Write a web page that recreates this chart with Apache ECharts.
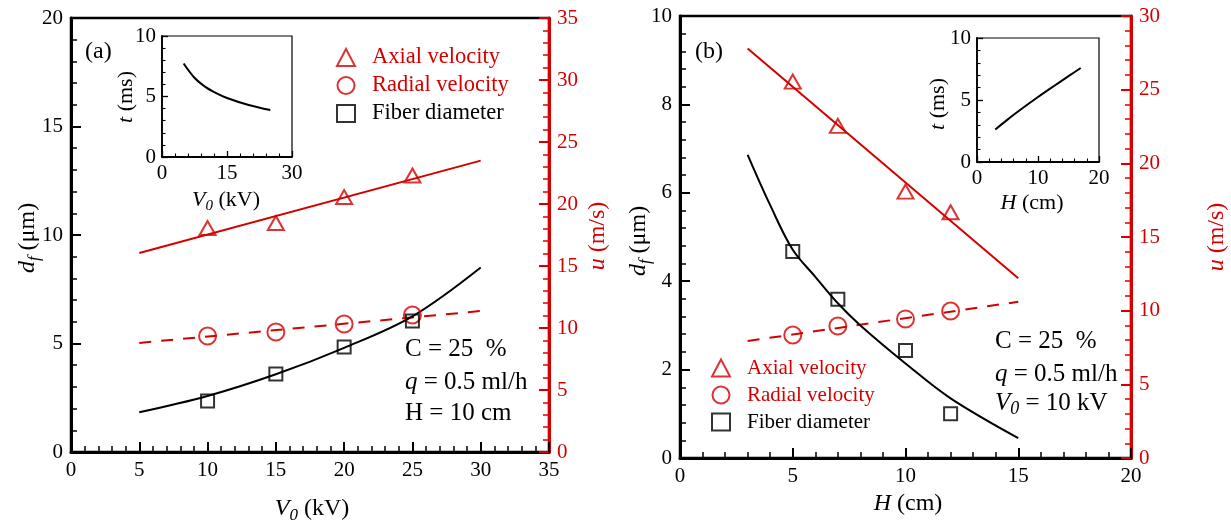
<!DOCTYPE html>
<html><head><meta charset="utf-8">
<script src="https://cdn.jsdelivr.net/npm/echarts@6/dist/echarts.min.js"></script>
<style>html,body{margin:0;padding:0;background:#fff}#c{width:1231px;height:523px}</style>
</head><body><div id="c"></div>
<script>
// ---------- Panel (a) data ----------
const aV = [10, 15, 20, 25];
const aAxial = [18.06, 18.47, 20.56, 22.3];
const aRadial = [9.35, 9.68, 10.32, 11.05];
const aDiam = [2.35, 3.59, 4.84, 6.04];
const aFitX = [5, 30];
const aAxialFit = [16.05, 23.5];
const aRadialFit = [8.8, 11.37];
const aDiamFitX = [5, 10, 15, 20, 25, 30];
const aDiamFit = [1.83, 2.58, 3.58, 4.8, 6.25, 8.5];
const aInsetX = [5, 7.5, 10, 12.5, 15, 20, 25];
const aInsetT = [7.73, 6.55, 5.8, 5.28, 4.88, 4.3, 3.88];
// ---------- Panel (b) data ----------
const bH = [5, 7, 10, 12];
const bAxial = [25.55, 22.54, 18.08, 16.68];
const bRadial = [8.35, 8.96, 9.44, 9.98];
const bDiam = [4.67, 3.59, 2.43, 1.0];
const bFitX = [3, 15];
const bAxialFit = [27.8, 12.2];
const bRadialFit = [7.94, 10.6];
const bDiamFitX = [3, 4, 5, 6, 7, 8, 10, 12, 15];
const bDiamFit = [6.86, 5.72, 4.71, 4.1, 3.5, 3.0, 2.14, 1.35, 0.45];
const bInsetX = [3, 5, 7.5, 10, 12.5, 15, 17];
const bInsetT = [2.62, 3.42, 4.35, 5.24, 6.09, 6.92, 7.58];
// ---------- names ----------
const legendNames = ['Axial velocity', 'Radial velocity', 'Fiber diameter'];

const RED = '#d40000';
const FONT = "'Liberation Serif','Times New Roman',serif";
const zip = (xs, ys) => xs.map((x, i) => [x, ys[i]]);

function axis(gi, pos, min, max, interval, minor, color, main) {
  return {
    type: 'value', gridIndex: gi, position: pos, min: min, max: max, interval: interval,
    axisLine: { show: true, onZero: false, lineStyle: { color: color, width: main ? 3 : 1.8 } },
    axisTick: { show: true, inside: true, length: main ? 10 : 6, lineStyle: { color: color, width: main ? 2 : 1.3 } },
    minorTick: { show: true, splitNumber: minor, length: main ? 6 : 3.5, lineStyle: { color: color, width: main ? 1.5 : 1.1 } },
    axisLabel: { color: color, fontFamily: FONT, fontSize: 21, margin: main ? 8 : 6 },
    splitLine: { show: false }, minorSplitLine: { show: false }
  };
}

const grids = [
  { left: 71, top: 18, width: 478, height: 434 },
  { left: 680, top: 16, width: 451, height: 442 },
  { left: 162, top: 36, width: 130, height: 121 },
  { left: 977, top: 38, width: 122, height: 124 }
].map((g, i) => Object.assign(g, { show: true, borderColor: '#000', borderWidth: i < 2 ? 2.5 : 1.2, backgroundColor: 'transparent' }));

const xAxes = [
  axis(0, 'bottom', 0, 35, 5, 5, '#000', true),
  axis(1, 'bottom', 0, 20, 5, 5, '#000', true),
  axis(2, 'bottom', 0, 30, 15, 5, '#000', false),
  axis(3, 'bottom', 0, 20, 10, 5, '#000', false)
];
const yAxes = [
  axis(0, 'left', 0, 20, 5, 5, '#000', true),
  axis(0, 'right', 0, 35, 5, 5, RED, true),
  axis(1, 'left', 0, 10, 2, 5, '#000', true),
  axis(1, 'right', 0, 30, 5, 5, RED, true),
  axis(2, 'left', 0, 10, 5, 5, '#000', false),
  axis(3, 'left', 0, 10, 5, 5, '#000', false)
];

const hollow = (c) => ({ color: 'rgba(0,0,0,0)', borderColor: c, borderWidth: 2 });
function pts(name, xi, yi, data, symbol, size, color) {
  return { type: 'scatter', name: name, xAxisIndex: xi, yAxisIndex: yi, data: data, symbol: symbol,
    symbolSize: size, itemStyle: hollow(color), z: 5, emphasis: { disabled: true } };
}
function ln(xi, yi, data, color, dashed, smooth) {
  return { type: 'line', xAxisIndex: xi, yAxisIndex: yi, data: data, showSymbol: false, symbol: 'none',
    smooth: smooth ? 0.35 : false, lineStyle: { color: color, width: 2, type: dashed ? [12, 10] : 'solid' },
    z: 3, silent: true };
}

const series = [
  ln(0, 1, zip(aFitX, aAxialFit), RED, false, false),
  ln(0, 1, zip(aFitX, aRadialFit), RED, true, false),
  ln(0, 0, zip(aDiamFitX, aDiamFit), '#000', false, true),
  pts('Axial velocity', 0, 1, zip(aV, aAxial), 'triangle', [16, 14], RED),
  pts('Radial velocity', 0, 1, zip(aV, aRadial), 'circle', 17, RED),
  pts('Fiber diameter', 0, 0, zip(aV, aDiam), 'rect', 13, '#000'),
  ln(1, 3, zip(bFitX, bAxialFit), RED, false, false),
  ln(1, 3, zip(bFitX, bRadialFit), RED, true, false),
  ln(1, 2, zip(bDiamFitX, bDiamFit), '#000', false, true),
  pts('Axial velocity', 1, 3, zip(bH, bAxial), 'triangle', [16, 14], RED),
  pts('Radial velocity', 1, 3, zip(bH, bRadial), 'circle', 17, RED),
  pts('Fiber diameter', 1, 2, zip(bH, bDiam), 'rect', 13, '#000'),
  ln(2, 4, zip(aInsetX, aInsetT), '#000', false, true),
  ln(3, 5, zip(bInsetX, bInsetT), '#000', false, true)
];

const legendItem = (name, icon, color) => ({ name: name, icon: icon, itemStyle: hollow(color), textStyle: { color: color } });
function legend(left, top, fs) {
  return {
    orient: 'vertical', left: left, top: top, itemWidth: 18, itemHeight: 17, itemGap: 5,
    selectedMode: false, padding: 0,
    textStyle: { fontFamily: FONT, fontSize: fs, lineHeight: 22, padding: [0, 0, 0, 12] },
    data: [legendItem(legendNames[0], 'triangle', RED), legendItem(legendNames[1], 'circle', RED), legendItem(legendNames[2], 'rect', '#000')]
  };
}

const rich = (fs, color) => ({
  n: { fontFamily: FONT, fontSize: fs, color: color, lineHeight: fs + 6 },
  i: { fontFamily: FONT, fontSize: fs, color: color, fontStyle: 'italic', lineHeight: fs + 6 },
  s: { fontFamily: FONT, fontSize: Math.round(fs * 0.7), color: color, fontStyle: 'italic', lineHeight: fs + 6, verticalAlign: 'bottom' }
});
function txt(x, y, text, fs, color, align, rot) {
  return { type: 'text', x: x, y: y, rotation: rot || 0, z: 10, silent: true,
    style: { text: text, rich: rich(fs, color), fontFamily: FONT, fontSize: fs, fill: color,
      align: align || 'center', verticalAlign: 'middle' } };
}
const R90 = Math.PI / 2;
const graphics = [
  txt(85, 52, '{n|(a)}', 24, '#000', 'left'),
  txt(695, 52, '{n|(b)}', 24, '#000', 'left'),
  txt(405, 349, '{n|C = 25  %}', 25, '#000', 'left'),
  txt(405, 382, '{i|q}{n| = 0.5 ml/h}', 25, '#000', 'left'),
  txt(405, 413, '{n|H = 10 cm}', 25, '#000', 'left'),
  txt(995, 341, '{n|C = 25  %}', 25, '#000', 'left'),
  txt(995, 374, '{i|q}{n| = 0.5 ml/h}', 25, '#000', 'left'),
  txt(995, 403, '{i|V}{s|0}{n| = 10 kV}', 25, '#000', 'left'),
  txt(312, 509, '{i|V}{s|0}{n| (kV)}', 24, '#000'),
  txt(28, 238, '{i|d}{s|f}{n| (μm)}', 24, '#000', 'center', R90),
  txt(598, 236, '{i|u}{n| (m/s)}', 24, RED, 'center', R90),
  txt(908, 504, '{i|H}{n| (cm)}', 24, '#000'),
  txt(639, 241, '{i|d}{s|f}{n| (μm)}', 24, '#000', 'center', R90),
  txt(1217, 237, '{i|u}{n| (m/s)}', 24, RED, 'center', R90),
  txt(126, 97, '{i|t}{n| (ms)}', 22, '#000', 'center', R90),
  txt(226, 200, '{i|V}{s|0}{n| (kV)}', 22, '#000'),
  txt(938, 104, '{i|t}{n| (ms)}', 22, '#000', 'center', R90),
  txt(1032, 203, '{i|H}{n| (cm)}', 22, '#000')
];

const chart = echarts.init(document.getElementById('c'), null, { renderer: 'canvas' });
chart.setOption({
  animation: false,
  backgroundColor: '#fff',
  grid: grids,
  xAxis: xAxes,
  yAxis: yAxes,
  legend: [legend(336, 46, 22.5), legend(711, 357, 21)],
  series: series,
  graphic: graphics
});
</script></body></html>
